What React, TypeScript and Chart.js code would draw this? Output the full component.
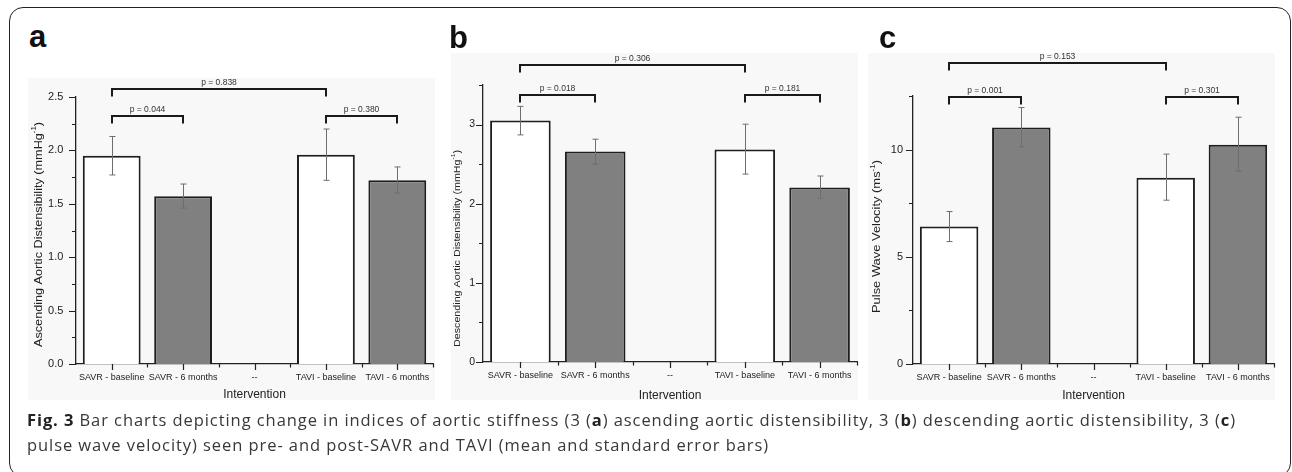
import React, { useEffect, useRef } from 'react';
import { Chart, registerables } from 'chart.js';

Chart.register(...registerables);

// ---------- data ----------
const categories = ['SAVR - baseline', 'SAVR - 6 months', '--', 'TAVI - baseline', 'TAVI - 6 months'];
const barFills = ['#ffffff', '#808080', '#ffffff', '#ffffff', '#808080'];

const ascMean = [1.95, 1.57, null, 1.96, 1.72];
const ascLow = [1.77, 1.46, null, 1.72, 1.6];
const ascHigh = [2.13, 1.685, null, 2.2, 1.845];
const ascBrackets = [
  { from: 0, to: 3, level: 2.575, label: 'p = 0.838' },
  { from: 0, to: 1, level: 2.318, label: 'p = 0.044' },
  { from: 3, to: 4, level: 2.318, label: 'p = 0.380' },
];

const descMean = [3.05, 2.66, null, 2.685, 2.205];
const descLow = [2.87, 2.5, null, 2.374, 2.07];
const descHigh = [3.23, 2.815, null, 3.005, 2.35];
const descBrackets = [
  { from: 0, to: 3, level: 3.754, label: 'p = 0.306' },
  { from: 0, to: 1, level: 3.37, label: 'p = 0.018' },
  { from: 3, to: 4, level: 3.37, label: 'p = 0.181' },
];

const pwvMean = [6.41, 11.03, null, 8.69, 10.23];
const pwvLow = [5.71, 10.13, null, 7.64, 8.99];
const pwvHigh = [7.11, 11.96, null, 9.79, 11.51];
const pwvBrackets = [
  { from: 0, to: 3, level: 14.03, label: 'p = 0.153' },
  { from: 0, to: 1, level: 12.47, label: 'p = 0.001' },
  { from: 3, to: 4, level: 12.47, label: 'p = 0.301' },
];

const FONT = '"Liberation Sans", Arial, Helvetica, sans-serif';
const INK = '#222222';

type PanelCfg = {
  letter: string;
  letterPos: [number, number];
  bg: [number, number, number, number];
  canvas: [number, number, number, number];
  yWidth: number;
  padTop: number;
  padRight: number;
  xHeight: number;
  xTitlePad: number;
  yMax: number;
  yStep: number;
  yDecimals: number;
  yTickPad: number;
  yTickSize: number;
  mean: (number | null)[];
  low: (number | null)[];
  high: (number | null)[];
  brackets: { from: number; to: number; level: number; label: string }[];
  yTitle: { main: string; sup: string; tail: string; size: number; cx: number; cy: number; len: number };
};

const panels: PanelCfg[] = [
  {
    letter: 'a',
    letterPos: [29, 21],
    bg: [28, 78, 407, 322],
    canvas: [20, 60, 420, 350],
    yWidth: 56,
    padTop: 37,
    padRight: 7,
    xHeight: 46,
    xTitlePad: 7.8,
    yMax: 2.5,
    yStep: 0.5,
    yDecimals: 1,
    yTickPad: 12.7,
    yTickSize: 11,
    mean: ascMean,
    low: ascLow,
    high: ascHigh,
    brackets: ascBrackets,
    yTitle: { main: 'Ascending Aortic Distensibility (mmHg', sup: '-1', tail: ')', size: 11, cx: 18.5, cy: 174.5, len: 225 },
  },
  {
    letter: 'b',
    letterPos: [449, 22],
    bg: [451, 53, 407, 347],
    canvas: [440, 40, 425, 370],
    yWidth: 43,
    padTop: 45,
    padRight: 8,
    xHeight: 48,
    xTitlePad: 7.1,
    yMax: 3.5,
    yStep: 1,
    yDecimals: 0,
    yTickPad: 8,
    yTickSize: 10.5,
    mean: descMean,
    low: descLow,
    high: descHigh,
    brackets: descBrackets,
    yTitle: { main: 'Descending Aortic Distensibility (mmHg', sup: '-1', tail: ')', size: 9.5, cx: 17, cy: 208.5, len: 197 },
  },
  {
    letter: 'c',
    letterPos: [879, 22],
    bg: [868, 53, 407, 347],
    canvas: [865, 40, 420, 370],
    yWidth: 48,
    padTop: 56,
    padRight: 11,
    xHeight: 46,
    xTitlePad: 7.1,
    yMax: 12.5,
    yStep: 5,
    yDecimals: 0,
    yTickPad: 10,
    yTickSize: 11,
    mean: pwvMean,
    low: pwvLow,
    high: pwvHigh,
    brackets: pwvBrackets,
    yTitle: { main: 'Pulse Wave Velocity (ms', sup: '-1', tail: ')', size: 11.2, cx: 12, cy: 196.5, len: 153 },
  },
];

const isMajor = (v: number, step: number) => Math.abs(v / step - Math.round(v / step)) < 1e-6;

function overlayPlugin(p: PanelCfg) {
  return {
    id: 'overlay_' + p.letter,
    afterDatasetsDraw(chart: any) {
      const ctx = chart.ctx as CanvasRenderingContext2D;
      const xs = chart.scales.x;
      const ys = chart.scales.y;
      const area = chart.chartArea;
      const half = (xs.getPixelForValue(1) - xs.getPixelForValue(0)) / 2;
      ctx.save();

      // error bars
      ctx.strokeStyle = '#6e6e6e';
      ctx.lineWidth = 1;
      p.low.forEach((lo, i) => {
        const hi = p.high[i];
        if (lo == null || hi == null) return;
        const cx = Math.round(xs.getPixelForValue(i)) + 0.5;
        const yl = ys.getPixelForValue(lo);
        const yh = ys.getPixelForValue(hi);
        ctx.beginPath();
        ctx.moveTo(cx, yl);
        ctx.lineTo(cx, yh);
        ctx.moveTo(cx - 3, yl);
        ctx.lineTo(cx + 3, yl);
        ctx.moveTo(cx - 3, yh);
        ctx.lineTo(cx + 3, yh);
        ctx.stroke();
      });

      // axis tick marks (major + minor)
      ctx.strokeStyle = INK;
      ctx.lineWidth = 1.2;
      ctx.beginPath();
      for (let v = 0; v <= p.yMax + 1e-9; v += p.yStep / 2) {
        const major = isMajor(v, p.yStep);
        const py = Math.round(ys.getPixelForValue(v)) + 0.5;
        ctx.moveTo(area.left, py);
        ctx.lineTo(area.left - (major ? 7 : 4), py);
      }
      for (let i = 0; i < categories.length; i++) {
        const cx = Math.round(xs.getPixelForValue(i)) + 0.5;
        ctx.moveTo(cx, area.bottom);
        ctx.lineTo(cx, area.bottom + 6);
        const bx = Math.round(xs.getPixelForValue(i) + half) + 0.5;
        ctx.moveTo(bx, area.bottom);
        ctx.lineTo(bx, area.bottom + 3.5);
      }
      ctx.stroke();

      // significance brackets
      ctx.strokeStyle = '#1a1a1a';
      ctx.lineWidth = 2;
      ctx.fillStyle = '#333333';
      ctx.font = `8.5px ${FONT}`;
      ctx.textAlign = 'center';
      ctx.textBaseline = 'middle';
      p.brackets.forEach((b) => {
        const x1 = Math.round(xs.getPixelForValue(b.from));
        const x2 = Math.round(xs.getPixelForValue(b.to));
        const yb = Math.round(ys.getPixelForValue(b.level));
        ctx.beginPath();
        ctx.moveTo(x1, yb + 7.5);
        ctx.lineTo(x1, yb);
        ctx.lineTo(x2, yb);
        ctx.lineTo(x2, yb + 7.5);
        ctx.stroke();
        ctx.fillText(b.label, (x1 + x2) / 2, yb - 6);
      });

      // y axis title with superscript
      const t = p.yTitle;
      ctx.translate(t.cx, t.cy);
      ctx.rotate(-Math.PI / 2);
      ctx.fillStyle = INK;
      ctx.textAlign = 'left';
      ctx.textBaseline = 'middle';
      const mainFont = `${t.size}px ${FONT}`;
      const supFont = `${t.size * 0.62}px ${FONT}`;
      ctx.font = mainFont;
      const w1 = ctx.measureText(t.main).width;
      const w3 = ctx.measureText(t.tail).width;
      ctx.font = supFont;
      const w2 = ctx.measureText(t.sup).width;
      const total = w1 + w2 + w3;
      ctx.scale(t.len / total, 1);
      let sx = -total / 2;
      ctx.font = mainFont;
      ctx.fillText(t.main, sx, 0);
      sx += w1;
      ctx.font = supFont;
      ctx.fillText(t.sup, sx, -t.size * 0.38);
      sx += w2;
      ctx.font = mainFont;
      ctx.fillText(t.tail, sx, 0);

      ctx.restore();
    },
  };
}

function Panel({ p }: { p: PanelCfg }) {
  const ref = useRef<HTMLCanvasElement | null>(null);
  useEffect(() => {
    if (!ref.current) return;
    const chart = new Chart(ref.current, {
      type: 'bar',
      data: {
        labels: categories,
        datasets: [
          {
            data: p.mean as any,
            backgroundColor: barFills,
            borderColor: '#1e1e1e',
            borderWidth: 2,
            barPercentage: 0.81,
            categoryPercentage: 1,
          },
        ],
      },
      options: {
        responsive: false,
        animation: false,
        events: [],
        layout: { padding: { top: p.padTop, right: p.padRight, left: 0, bottom: 0 } },
        plugins: { legend: { display: false }, tooltip: { enabled: false } },
        scales: {
          x: {
            type: 'category',
            offset: true,
            grid: { display: false, drawTicks: false },
            border: { display: true, color: INK, width: 1.3 },
            ticks: {
              font: { family: FONT, size: 9 },
              color: INK,
              padding: 8,
              maxRotation: 0,
              minRotation: 0,
              autoSkip: false,
            },
            title: {
              display: true,
              text: 'Intervention',
              color: INK,
              font: { family: FONT, size: 12 },
              padding: { top: 0, bottom: p.xTitlePad },
            },
            afterFit: (s: any) => {
              s.height = p.xHeight;
            },
          },
          y: {
            min: 0,
            max: p.yMax,
            grid: { display: false, drawTicks: false },
            border: { display: true, color: INK, width: 1.3 },
            ticks: {
              stepSize: p.yStep,
              font: { family: FONT, size: p.yTickSize },
              color: INK,
              padding: p.yTickPad,
              callback: (v: any) => (isMajor(Number(v), p.yStep) ? Number(v).toFixed(p.yDecimals) : ''),
            },
            afterFit: (s: any) => {
              s.width = p.yWidth;
            },
          },
        },
      },
      plugins: [overlayPlugin(p)],
    } as any);
    return () => chart.destroy();
  }, []);
  return (
    <>
      <div
        style={{
          position: 'absolute',
          left: p.bg[0],
          top: p.bg[1],
          width: p.bg[2],
          height: p.bg[3],
          background: '#f8f8f8',
        }}
      />
      <canvas
        ref={ref}
        width={p.canvas[2]}
        height={p.canvas[3]}
        style={{ position: 'absolute', left: p.canvas[0], top: p.canvas[1], width: p.canvas[2], height: p.canvas[3] }}
      />
      <div
        style={{
          position: 'absolute',
          left: p.letterPos[0],
          top: p.letterPos[1],
          font: `bold 31px/31px ${FONT}`,
          color: '#111',
        }}
      >
        {p.letter}
      </div>
    </>
  );
}

export default function App() {
  const bold = { color: '#222', letterSpacing: '0.9px' };
  return (
    <div style={{ position: 'absolute', left: 0, top: 0, width: 1292, height: 472, overflow: 'hidden', background: '#fff' }}>
      <div
        style={{
          position: 'absolute',
          left: 9,
          top: 7,
          width: 1282,
          height: 470,
          boxSizing: 'border-box',
          border: '1.5px solid #222',
          borderRadius: 14,
        }}
      />
      {panels.map((p) => (
        <Panel key={p.letter} p={p} />
      ))}
      <div
        style={{
          position: 'absolute',
          left: 27,
          top: 407,
          fontFamily: '"Open Sans", sans-serif',
          fontSize: 16.5,
          letterSpacing: '0.93px',
          lineHeight: '25px',
          color: '#383838',
          whiteSpace: 'nowrap',
        }}
      >
        <b style={bold}>Fig. 3</b> Bar charts depicting change in indices of aortic stiffness (3 (<b style={bold}>a</b>)
        ascending aortic distensibility, 3 (<b style={bold}>b</b>) descending aortic distensibility, 3 (
        <b style={bold}>c</b>)
        <br />
        pulse wave velocity) seen pre- and post-SAVR and TAVI (mean and standard error bars)
      </div>
    </div>
  );
}
